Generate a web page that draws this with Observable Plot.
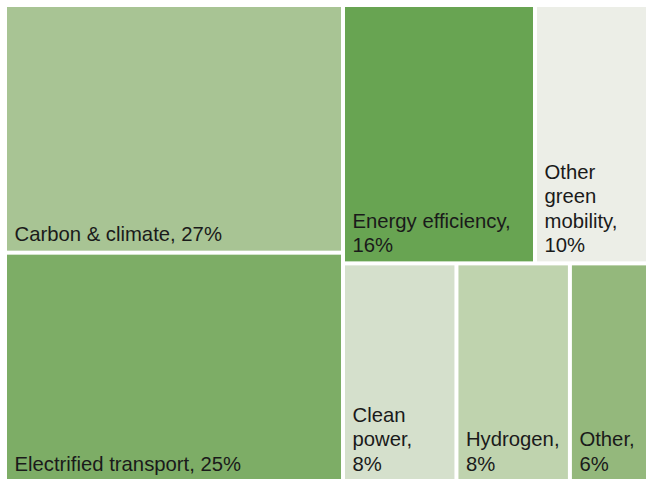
<!DOCTYPE html>
<html><head><meta charset="utf-8">
<script src="https://cdn.jsdelivr.net/npm/d3@7"></script>
<script src="https://cdn.jsdelivr.net/npm/@observablehq/plot@0.6"></script>
<style>body{margin:0;background:#fff} #chart svg{display:block;overflow:hidden}</style>
</head><body><div id="chart"></div>
<script>
const categories = ["Carbon & climate", "Electrified transport", "Energy efficiency", "Other green mobility", "Clean power", "Hydrogen", "Other"];
const shares = [27, 25, 16, 10, 8, 8, 6];
const labels = ["Carbon & climate, 27%", "Electrified transport, 25%", "Energy efficiency,\n16%", "Other\ngreen\nmobility,\n10%", "Clean\npower,\n8%", "Hydrogen,\n8%", "Other,\n6%"];
const colors = ["#a8c494", "#7dad66", "#68a452", "#eceee7", "#d5e0cc", "#bfd3ae", "#94b87c"];
const groups = ["left", "left", "right/top", "right/top", "right/bottom", "right/bottom", "right/bottom"];

// build nested hierarchy from the arrays
const tree = {name: "root", children: []};
categories.forEach((c, i) => {
  let node = tree;
  for (const part of groups[i].split("/")) {
    let child = node.children.find(d => d.name === part);
    if (!child) { child = {name: part, children: []}; node.children.push(child); }
    node = child;
  }
  node.children.push({name: c, value: shares[i], label: labels[i], color: colors[i]});
});

const root = d3.hierarchy(tree).sum(d => d.value || 0);
d3.treemap().tile(d3.treemapSliceDice).size([646, 473]).paddingInner(4).round(false)(root);
const cells = root.leaves().map(l => ({...l.data, x0: l.x0, x1: l.x1, y0: l.y0, y1: l.y1}));

const chart = Plot.plot({
  width: 646,
  height: 479,
  margin: 0,
  x: {type: "linear", domain: [0, 646], range: [7, 653], axis: null},
  y: {type: "linear", domain: [0, 473], range: [7, 480], axis: null},
  style: {fontFamily: "Helvetica, Arial, 'Liberation Sans', sans-serif", background: "#fff"},
  marks: [
    Plot.rect(cells, {x1: "x0", x2: "x1", y1: "y0", y2: "y1", fill: "color", clip: true}),
    Plot.text(cells, {x: "x0", y: "y1", text: "label", textAnchor: "start", lineAnchor: "bottom",
      dx: 7, dy: -10, fontSize: 20.3, lineHeight: 1.2, fill: "#1a1a1a", clip: true})
  ]
});
document.getElementById("chart").append(chart);
</script>
</body></html>
